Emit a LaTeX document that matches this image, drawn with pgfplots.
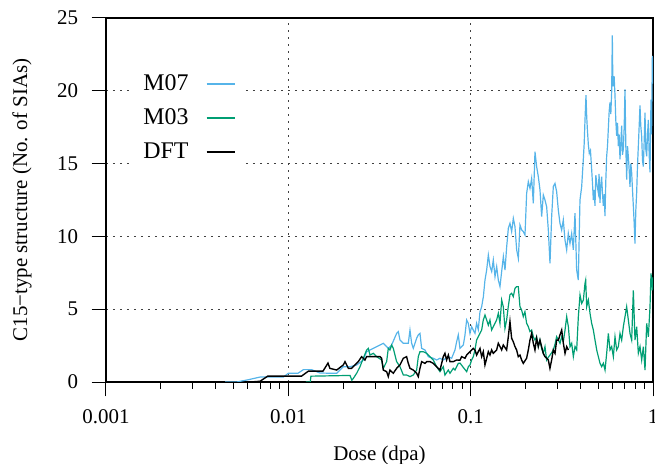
\documentclass[border=0pt]{standalone}
\usepackage{fontspec}
\setmainfont{Liberation Serif}
\usepackage{pgfplots}
\pgfplotsset{compat=1.18}
\definecolor{cM07}{RGB}{86,180,233}
\definecolor{cM03}{RGB}{0,158,115}
\begin{document}
\fontsize{10.5}{12.6}\selectfont
\begin{tikzpicture}
\begin{axis}[
 name=ax,
 scale only axis,
 width=273.5bp, height=182bp,
 xmode=log, xmin=0.001, xmax=1, ymin=0, ymax=25,
 xtick={0.001,0.01,0.1,1}, xticklabels={0.001,0.01,0.1,1},
 ytick={0,5,10,15,20,25},
 tick align=outside, tick pos=left,
 major tick length=7.25bp, minor tick length=3.5bp,
 axis line style={line width=1bp},
 every tick/.style={black, line width=0.5bp},
 xmajorgrids, ymajorgrids,
 grid style={dash pattern=on 1bp off 2.5bp, line width=0.5bp, black!75},
 /pgf/number format/assume math mode=true,
 xticklabel style={yshift=-3bp},
 yticklabel style={xshift=-3bp},
 xlabel={Dose (dpa)}, ylabel={C15−type structure (No. of SIAs)},
 xlabel style={at={(axis description cs:0.5,-0.2005)}, anchor=center},
 ylabel style={at={(axis description cs:-0.1536,0.5)}, anchor=center},
 legend cell align=left, legend plot pos=right,
 legend style={at={(axis description cs:0.0494,0.868)}, anchor=north west, draw=none, fill=white, row sep=3.5bp, font=\fontsize{12}{14.4}\selectfont},
 legend image code/.code={\path[draw=none] (0bp,0bp) -- (1bp,0bp); \draw[#1] (7bp,0bp) -- (21bp,0bp);},
]
\addplot[cM07, line width=0.6pt] coordinates {
(0.0045,0) (0.0052,0) (0.0060,0.15) (0.0070,0.34) (0.0094,0.34) (0.0100,0.6) (0.0113,0.6) (0.0121,0.85) (0.0134,0.85) (0.0149,0.62) (0.0169,0.6) (0.01841,0.6) (0.02002,1.05) (0.02178,1.05) (0.0237,1.17) (0.02577,1.51) (0.02688,2.08) (0.02925,2.31) (0.03182,2.54) (0.03318,2.66) (0.03534,2.31) (0.03686,2.54) (0.03927,3.34) (0.04011,3.46) (0.04096,2.88) (0.04273,2.66) (0.0455,2.66) (0.04647,3.57) (0.04746,2.66) (0.04846,2.31) (0.05054,3.0) (0.05162,3.23) (0.05272,3.34) (0.05384,2.31) (0.05616,2.2) (0.05858,1.74) (0.06239,1.63) (0.06507,1.51) (0.06787,1.63) (0.07078,1.51) (0.07541,1.74) (0.07865,1.63) (0.08204,2.2) (0.08377,2.77) (0.08555,3.23) (0.08738,2.31) (0.09115,2.54) (0.09308,3.23) (0.09504,4.26) (0.09707,4.03) (0.09913,3.34) (0.1012,3.8) (0.1056,3.34) (0.1078,4.03) (0.1101,3.6) (0.1125,4.83) (0.1149,5.17) (0.1174,5.86) (0.1198,7.0) (0.1224,7.69) (0.1250,8.72) (0.1277,7.92) (0.1304,7.58) (0.1331,8.38) (0.1360,7.23) (0.1389,7.92) (0.1418,7.0) (0.1448,6.55) (0.1479,7.58) (0.1511,8.61) (0.1543,7.69) (0.1576,9.29) (0.1609,10.55) (0.1643,10.9) (0.1678,10.33) (0.1714,11.24) (0.1750,10.67) (0.1788,9.07) (0.1826,8.49) (0.1864,10.78) (0.1904,10.44) (0.1945,10.33) (0.1986,10.1) (0.2028,12.96) (0.2071,13.76) (0.2115,13.3) (0.2160,13.99) (0.2206,12.27) (0.2253,15.82) (0.2301,14.79) (0.2350,14.1) (0.2400,13.19) (0.2451,11.36) (0.2503,12.84) (0.2556,12.5) (0.2611,12.04) (0.2666,10.44) (0.2723,8.15) (0.2781,11.36) (0.2840,13.42) (0.2900,13.64) (0.2962,13.07) (0.3025,11.81) (0.3089,10.9) (0.3155,10.44) (0.3222,11.13) (0.3291,9.75) (0.3361,9.07) (0.3432,10.21) (0.3505,9.52) (0.3580,10.2) (0.3656,9.08) (0.3734,11.6) (0.3814,7.7) (0.3894,7.0) (0.3977,12.5) (0.4062,13.4) (0.4148,15.3) (0.4195,16.4) (0.4237,18.0) (0.4290,19.7) (0.4330,18.2) (0.4364,17.4) (0.4420,16.3) (0.4474,15.7) (0.4540,15.9) (0.4609,14.6) (0.4660,13.6) (0.4707,12.5) (0.4760,13.2) (0.4806,12.1) (0.4860,14.2) (0.4909,13.7) (0.5013,13.0) (0.5060,14.3) (0.5120,12.3) (0.5170,13.5) (0.5229,14.1) (0.5280,13.0) (0.5340,12.1) (0.5400,12.9) (0.5453,11.4) (0.5510,13.8) (0.5570,15.5) (0.5630,16.2) (0.5689,17.4) (0.5750,18.6) (0.5809,19.2) (0.5870,18.4) (0.5933,19.9) (0.5983,23.8) (0.6020,20.8) (0.6059,20.3) (0.6120,21.0) (0.6188,19.7) (0.6250,18.0) (0.6320,16.9) (0.6390,17.8) (0.6455,16.2) (0.6520,17.0) (0.6592,15.3) (0.6660,16.4) (0.6732,17.6) (0.6800,15.6) (0.6876,16.0) (0.6950,17.5) (0.7022,20.1) (0.7100,16.0) (0.7172,13.9) (0.7250,16.2) (0.7323,15.5) (0.7400,14.6) (0.7479,13.4) (0.7560,15.0) (0.7638,14.4) (0.7720,13.2) (0.7800,12.1) (0.7880,11.0) (0.7966,9.5) (0.8050,11.8) (0.8136,13.0) (0.8220,14.8) (0.8309,16.2) (0.8400,17.6) (0.8485,19.0) (0.8570,17.6) (0.8665,16.9) (0.8760,15.2) (0.8851,14.8) (0.8950,16.6) (0.9039,18.5) (0.9130,16.0) (0.9232,15.5) (0.9330,17.0) (0.9428,18.0) (0.9530,15.6) (0.9627,14.4) (0.975,19.4) (0.982,17.0) (0.992,22.4) (1.0,20.5)
};
\addlegendentry{M07}
\addplot[cM03, line width=0.6pt] coordinates {
(0.0125,0) (0.0132,0) (0.0133,0.4) (0.0218,0.45) (0.0223,0.12) (0.02273,0.25) (0.0237,0.6) (0.02472,1.05) (0.02577,1.63) (0.02688,2.2) (0.02746,2.31) (0.02804,1.85) (0.02925,1.97) (0.03051,1.74) (0.03249,1.51) (0.03318,0.94) (0.03461,1.4) (0.03534,2.31) (0.03609,2.2) (0.03686,2.54) (0.03765,2.31) (0.03845,1.85) (0.03927,1.4) (0.04096,1.05) (0.04273,0.48) (0.04455,0.48) (0.04647,0.37) (0.04846,0.48) (0.05054,0.82) (0.05162,1.74) (0.05272,2.08) (0.05499,2.08) (0.05736,1.97) (0.05982,1.74) (0.06239,1.51) (0.06507,1.05) (0.06787,0.71) (0.07078,1.05) (0.07228,0.48) (0.07541,0.82) (0.07700,0.6) (0.08032,0.94) (0.08204,0.82) (0.08555,1.28) (0.08738,1.3) (0.09114,1.0) (0.09506,0.71) (0.09708,1.05) (0.09914,1.17) (0.1012,1.51) (0.1034,1.74) (0.1056,2.2) (0.1078,2.88) (0.1101,3.11) (0.1149,3.57) (0.1173,4.26) (0.1198,4.6) (0.1224,4.26) (0.1250,3.9) (0.1276,4.26) (0.1303,3.57) (0.1331,3.8) (0.1359,4.03) (0.1388,4.26) (0.1418,4.72) (0.1448,4.03) (0.1479,5.63) (0.1510,5.17) (0.1542,3.68) (0.1575,4.26) (0.1609,5.2) (0.1643,6.0) (0.1678,6.09) (0.1713,5.86) (0.1750,6.43) (0.1787,6.55) (0.1825,6.55) (0.1864,5.17) (0.1903,4.95) (0.1944,4.49) (0.1985,4.83) (0.2027,4.03) (0.2071,3.8) (0.2115,3.46) (0.2160,3.57) (0.2206,3.11) (0.2252,2.88) (0.2300,3.11) (0.2349,2.43) (0.2399,2.88) (0.2450,2.3) (0.2502,1.97) (0.2556,2.43) (0.2610,1.51) (0.2666,1.7) (0.2722,1.85) (0.2780,2.0) (0.2839,2.2) (0.2902,2.6) (0.2961,3.11) (0.3027,2.88) (0.3091,2.66) (0.3157,3.11) (0.3224,2.77) (0.3293,3.57) (0.3363,4.49) (0.3434,3.8) (0.3507,2.43) (0.3582,2.66) (0.3658,1.74) (0.3736,2.43) (0.3815,2.2) (0.3896,4.49) (0.3979,5.98) (0.4064,5.4) (0.4150,5.63) (0.4238,6.78) (0.4274,7.0) (0.4328,5.17) (0.4420,5.63) (0.4514,4.72) (0.4610,4.03) (0.4708,3.57) (0.4809,2.88) (0.4911,2.2) (0.5015,1.74) (0.5122,1.28) (0.5231,1.05) (0.5342,1.28) (0.5456,0.82) (0.5572,1.97) (0.5690,3.34) (0.5811,2.2) (0.5935,2.43) (0.6061,1.74) (0.6190,3.11) (0.6321,2.2) (0.6456,2.43) (0.6593,3.34) (0.6734,2.88) (0.6877,3.8) (0.7023,4.49) (0.7172,5.17) (0.7325,4.26) (0.7481,3.34) (0.7640,2.88) (0.7802,6.3) (0.7968,2.88) (0.8138,3.8) (0.8311,1.97) (0.8487,2.43) (0.8668,1.51) (0.8853,2.43) (0.9041,0.82) (0.9233,4.03) (0.9430,3.11) (0.9630,5.17) (0.9751,7.46) (0.9915,6.3) (1.0,7.2)
};
\addlegendentry{M03}
\addplot[black, line width=0.7pt] coordinates {
(0.0062,0) (0.0070,0.05) (0.0077,0.4) (0.0118,0.4) (0.0129,0.75) (0.0155,0.75) (0.0165,1.3) (0.0169,0.94) (0.01841,0.82) (0.02002,1.17) (0.02045,1.4) (0.02133,0.94) (0.02225,0.94) (0.0232,1.17) (0.0242,1.4) (0.02524,1.74) (0.02577,1.63) (0.02632,1.51) (0.02688,1.74) (0.02804,1.74) (0.03051,1.74) (0.03182,1.74) (0.03249,1.63) (0.03318,0.82) (0.03461,0.71) (0.03534,0.37) (0.03609,0.82) (0.03765,0.6) (0.03927,0.94) (0.04096,1.17) (0.04273,1.63) (0.04455,1.74) (0.0455,1.28) (0.04647,0.94) (0.04846,0.82) (0.05054,0.6) (0.05162,0.37) (0.05272,0.94) (0.05384,1.4) (0.05616,1.28) (0.05736,1.4) (0.05982,1.4) (0.06239,1.28) (0.06507,1.05) (0.06787,0.82) (0.07078,1.74) (0.07228,1.97) (0.07382,1.51) (0.07541,1.85) (0.077,1.4) (0.08032,1.4) (0.08377,1.51) (0.08738,1.5) (0.08924,1.74) (0.09308,1.63) (0.09504,1.85) (0.09913,2.08) (0.1012,2.2) (0.1034,2.31) (0.1056,2.2) (0.1078,1.85) (0.1101,2.08) (0.1125,2.31) (0.1149,1.74) (0.1173,2.08) (0.1198,1.17) (0.1224,1.63) (0.1250,2.08) (0.1276,1.85) (0.1303,2.2) (0.1331,1.97) (0.1388,2.2) (0.1418,2.66) (0.1448,2.43) (0.1479,2.2) (0.1510,2.54) (0.1575,2.2) (0.1609,3.11) (0.1643,4.14) (0.1678,3.0) (0.1713,2.77) (0.1750,2.43) (0.1787,2.2) (0.1825,1.74) (0.1864,1.85) (0.1903,1.51) (0.1944,1.28) (0.2027,1.63) (0.2071,2.2) (0.2115,2.88) (0.2160,3.34) (0.2206,2.66) (0.2252,2.2) (0.2300,3.0) (0.2349,2.43) (0.2399,2.88) (0.2502,1.97) (0.2556,1.74) (0.2666,1.51) (0.2722,0.94) (0.2780,1.51) (0.2839,2.2) (0.2902,1.97) (0.2961,2.88) (0.3027,2.88) (0.3089,3.23) (0.3157,3.57) (0.3224,2.66) (0.3293,1.97) (0.3363,2.43) (0.3434,2.2)
};
\addlegendentry{DFT}
\end{axis}
\pgfresetboundingbox
\path[use as bounding box] ([xshift=-53bp,yshift=-41bp]ax.south west) rectangle ([xshift=1bp,yshift=9bp]ax.north east);
\end{tikzpicture}
\end{document}
